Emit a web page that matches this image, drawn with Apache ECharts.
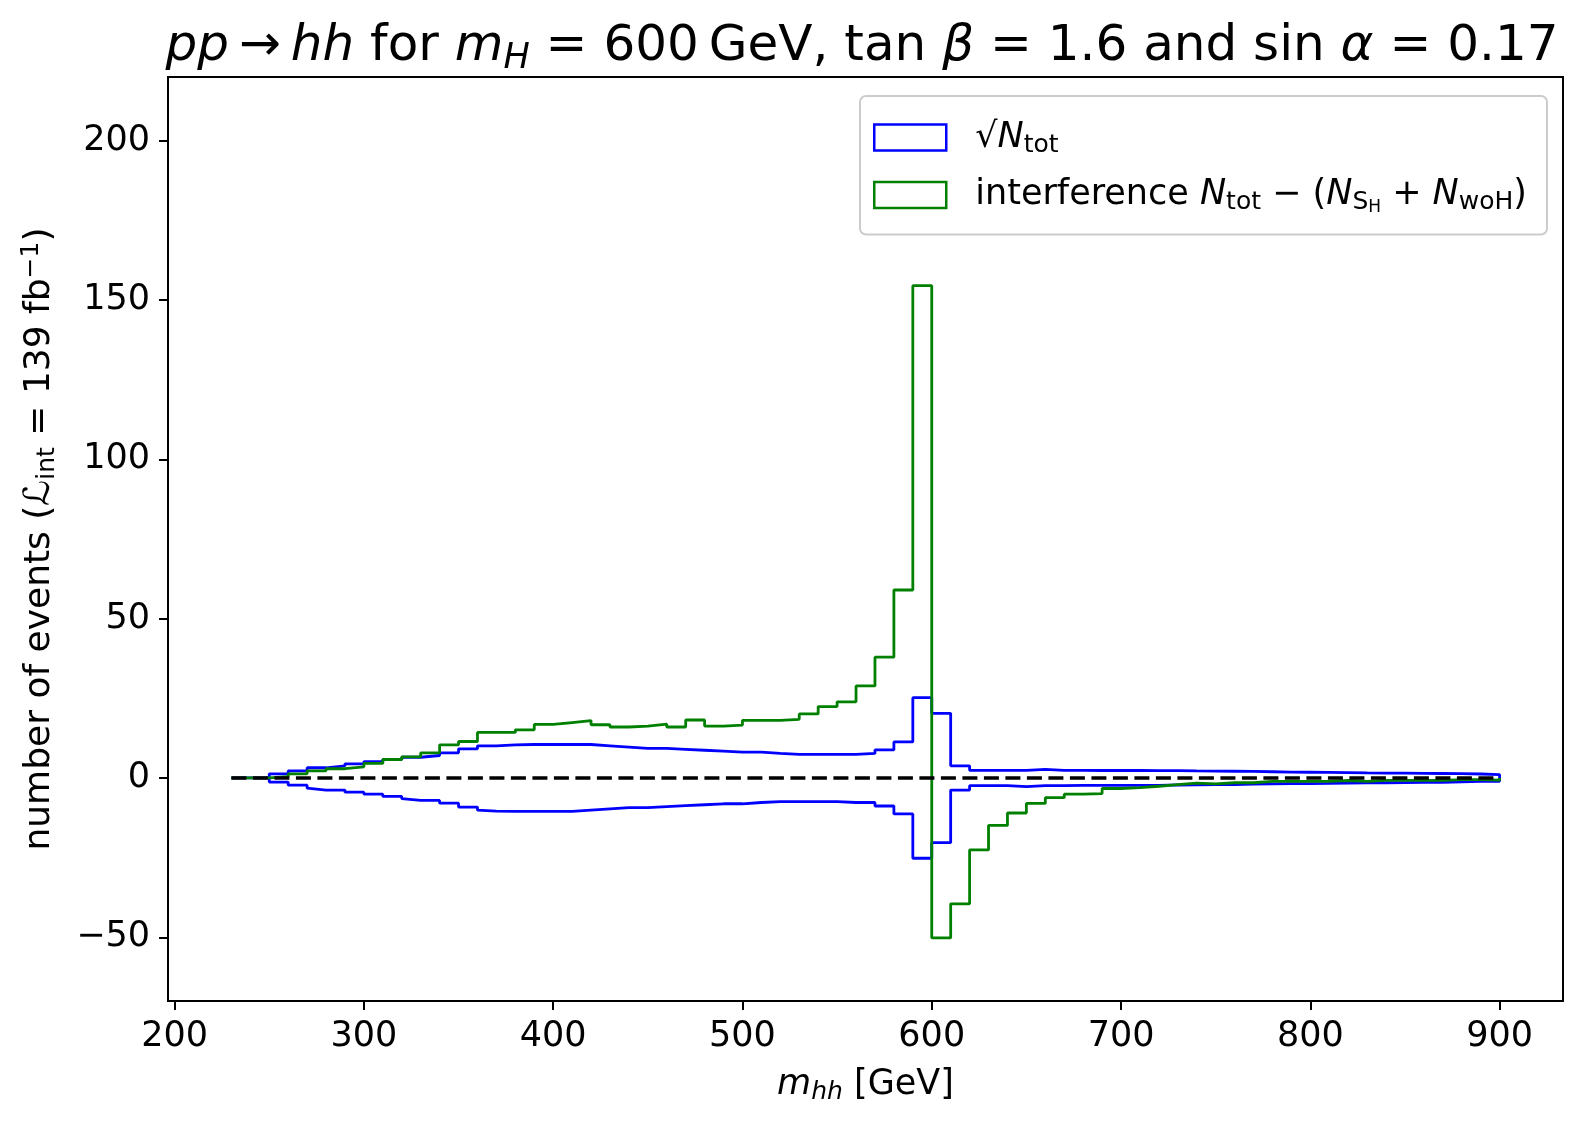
<!DOCTYPE html>
<html>
<head>
<meta charset="utf-8">
<script src="https://cdn.jsdelivr.net/npm/echarts@6/dist/echarts.min.js"></script>
<style>
  html, body { margin: 0; padding: 0; background: #ffffff; }
  #container { width: 1590px; height: 1123px; }
</style>
</head>
<body>
<div id="container"></div>
<script>
// bin edges of the m_hh histogram (GeV)
var binEdges = [230, 240, 250, 260, 270, 280, 290, 300, 310, 320, 330, 340, 350, 360, 370, 380, 390,
  400, 410, 420, 430, 440, 450, 460, 470, 480, 490, 500, 510, 520, 530, 540, 550, 560, 570, 580, 590,
  600, 610, 620, 630, 640, 650, 660, 670, 680, 690, 700, 710, 720, 730, 740, 750, 760, 770, 780, 790,
  800, 810, 820, 830, 840, 850, 860, 870, 880, 890, 900];

// sqrt(N_tot) per bin
var sqrtNtot = [0, 0, 1.3, 2.25, 3.2, 3.8, 4.45, 5.1, 5.8, 6.5, 7.05, 7.9, 9.15, 10.1, 10.4, 10.5, 10.5,
  10.5, 10.5, 10.1, 9.7, 9.3, 9.3, 9.0, 8.7, 8.4, 8.1, 8.1, 7.7, 7.4, 7.4, 7.4, 7.4, 7.7, 8.8, 11.3, 25.2,
  20.3, 3.8, 2.4, 2.4, 2.4, 2.7, 2.4, 2.4, 2.35, 2.35, 2.35, 2.3, 2.3, 2.2, 2.15, 2.1, 2.05, 1.95, 1.85, 1.8,
  1.75, 1.7, 1.6, 1.55, 1.5, 1.45, 1.4, 1.35, 1.25, 1.05];

// interference N_tot - (N_SH + N_woH) per bin
var interference = [0, 0, 0.45, 1.3, 2.25, 2.9, 3.5, 4.55, 5.8, 6.6, 7.9, 10.4, 11.45, 14.3, 14.3, 15.1, 16.8,
  17.4, 18.0, 16.7, 16.0, 16.3, 16.9, 16.0, 18.2, 16.3, 16.6, 18.1, 18.1, 18.4, 20.1, 22.4, 23.9, 28.9, 37.9, 59.0, 154.5,
  -50.2, -39.5, -22.6, -14.9, -11.0, -8.0, -6.2, -5.1, -4.9, -3.3, -3.0, -2.6, -2.1, -1.6, -1.85, -1.5, -1.5, -1.1, -1.1, -1.1,
  -1.1, -0.8, -1.1, -0.75, -0.75, -0.75, -0.75, -0.5, -0.5, -0.7];

var xTicks = [200, 300, 400, 500, 600, 700, 800, 900];
var yTicks = [-50, 0, 50, 100, 150, 200];

var FONT = 'DejaVu Sans';

// outline of a histogram drawn as stairs between lower and upper values
function stairsPath(edges, upper, lower) {
  var pts = [];
  var n = upper.length;
  for (var i = 0; i < n; i++) {
    pts.push([edges[i], upper[i]]);
    pts.push([edges[i + 1], upper[i]]);
  }
  if (lower) {
    for (var j = n - 1; j >= 0; j--) {
      pts.push([edges[j + 1], lower[j]]);
      pts.push([edges[j], lower[j]]);
    }
    pts.push(pts[0]);
  } else {
    // baseline 0: close down to the baseline at both ends
    pts.push([edges[n], 0]);
    pts.unshift([edges[0], 0]);
  }
  return pts;
}

var negSqrt = sqrtNtot.map(function (v) { return -v; });

var dom = document.getElementById('container');
var myChart = echarts.init(dom, null, { renderer: 'canvas' });

function richSet(size) {
  return {
    r: { fontFamily: FONT, fontSize: size, color: '#000' },
    i: { fontFamily: FONT, fontSize: size, fontStyle: 'italic', color: '#000' },
    sub: { fontFamily: FONT, fontSize: Math.round(size * 0.7), color: '#000', padding: [Math.round(size * 0.44), 0, 0, 0] },
    subi: { fontFamily: FONT, fontSize: Math.round(size * 0.7), fontStyle: 'italic', color: '#000', padding: [Math.round(size * 0.44), 0, 0, 0] },
    subsub: { fontFamily: FONT, fontSize: Math.round(size * 0.48), color: '#000', padding: [Math.round(size * 0.75), 0, 0, 0] },
    sup: { fontFamily: FONT, fontSize: Math.round(size * 0.7), color: '#000', padding: [0, 0, Math.round(size * 0.44), 0] }
  };
}

var legendText = {
  sqrt: '{r|\u221A}{i|N}{sub|tot}',
  interf: '{r|interference }{i|N}{sub|tot}{r| \u2212 (}{i|N}{sub|S}{subsub|H}{r| + }{i|N}{sub|woH}{r|)}'
};

function tickFmt(v) { return v < 0 ? '\u2212' + Math.abs(v) : String(v); }

var option = {
  animation: false,
  backgroundColor: '#ffffff',
  grid: {
    left: 168, right: 27, top: 77, bottom: 122,
    show: true, borderColor: '#000', borderWidth: 2, backgroundColor: 'transparent'
  },
  graphic: [{
    type: 'text',
    x: 862, y: 19,
    style: {
      text: '{i|pp}{r|\u2009\u2192\u2009}{i|hh}{r| for }{i|m}{subi|H}{r| = 600\u2009GeV, tan }{i|\u03B2}{r| = 1.6 and sin }{i|\u03B1}{r| = 0.17}',
      align: 'center',
      verticalAlign: 'top',
      rich: richSet(50)
    }
  }],
  legend: {
    orient: 'vertical',
    right: 43, top: 96,
    padding: [24, 20, 18, 13],
    itemGap: 20,
    itemWidth: 72,
    itemHeight: 26,
    backgroundColor: 'rgba(255,255,255,0.8)',
    borderColor: '#cccccc',
    borderWidth: 2,
    borderRadius: 6,
    data: [
      { name: 'sqrt', icon: 'rect', itemStyle: { color: 'transparent', borderColor: '#0000ff', borderWidth: 2.5 } },
      { name: 'interf', icon: 'rect', itemStyle: { color: 'transparent', borderColor: '#008000', borderWidth: 2.5 } }
    ],
    formatter: function (name) { return legendText[name]; },
    textStyle: { padding: [0, 0, 0, 24], rich: richSet(35) }
  },
  xAxis: {
    type: 'value',
    min: 196.5, max: 933.5,
    name: '{i|m}{subi|hh}{r| [GeV]}',
    nameLocation: 'middle',
    nameGap: 64,
    nameTextStyle: { rich: richSet(35) },
    axisLine: { show: true, onZero: false, lineStyle: { color: '#000', width: 2 } },
    axisTick: { show: true, length: 9, lineStyle: { color: '#000', width: 2 }, customValues: xTicks },
    axisLabel: { customValues: xTicks, formatter: tickFmt, fontFamily: FONT, fontSize: 35, color: '#000', margin: 18 },
    splitLine: { show: false }
  },
  yAxis: {
    type: 'value',
    min: -70, max: 220,
    name: '{r|number of events (}{i|\u2112}{sub|int}{r| = 139 fb}{sup|\u22121}{r|)}',
    nameLocation: 'middle',
    nameRotate: 90,
    nameGap: 108,
    nameTextStyle: { rich: richSet(36) },
    axisLine: { show: true, onZero: false, lineStyle: { color: '#000', width: 2 } },
    axisTick: { show: true, length: 9, lineStyle: { color: '#000', width: 2 }, customValues: yTicks },
    axisLabel: { customValues: yTicks, formatter: tickFmt, fontFamily: FONT, fontSize: 35, color: '#000', margin: 18 },
    splitLine: { show: false }
  },
  series: [
    {
      name: 'sqrt',
      type: 'line',
      data: stairsPath(binEdges, sqrtNtot, negSqrt),
      showSymbol: false,
      lineStyle: { color: '#0000ff', width: 2.8 },
      itemStyle: { color: '#0000ff' },
      z: 2
    },
    {
      name: 'interf',
      type: 'line',
      data: stairsPath(binEdges, interference, null),
      showSymbol: false,
      lineStyle: { color: '#008000', width: 2.8 },
      itemStyle: { color: '#008000' },
      z: 3
    },
    {
      name: 'zero',
      type: 'line',
      data: [[binEdges[0], 0], [binEdges[binEdges.length - 1], 0]],
      showSymbol: false,
      lineStyle: { color: '#000', width: 3.5, type: [15, 6.5] },
      z: 4
    }
  ]
};

myChart.setOption(option);
window.addEventListener('resize', myChart.resize);
</script>
</body>
</html>
